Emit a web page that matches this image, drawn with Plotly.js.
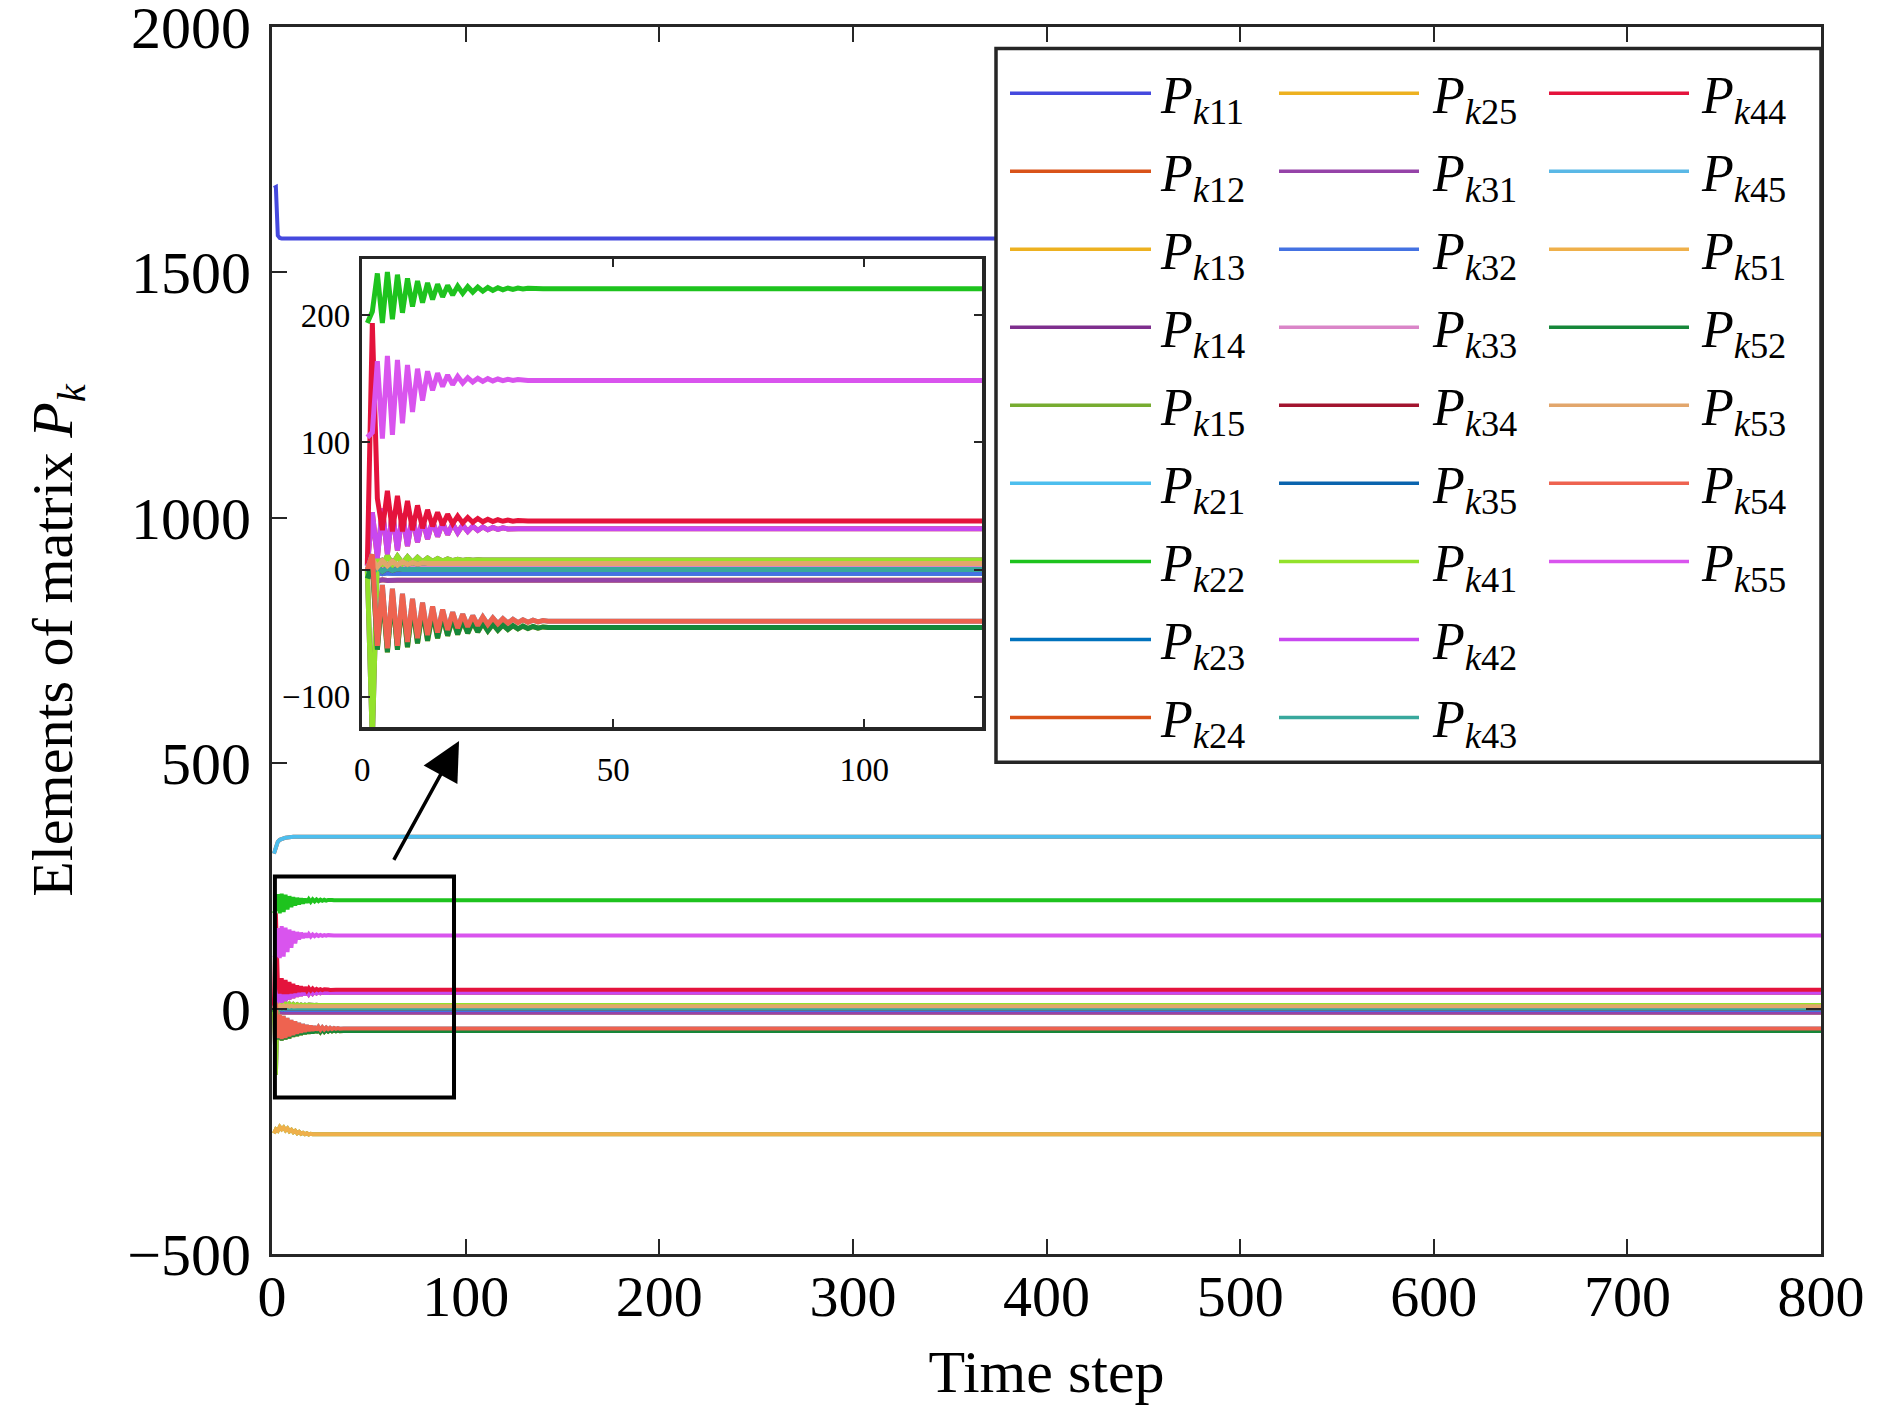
<!DOCTYPE html>
<html>
<head>
<meta charset="utf-8">
<script src="https://cdn.plot.ly/plotly-3.0.1.min.js"></script>
<style>html,body{margin:0;padding:0;background:#fff}#chart{width:1890px;height:1408px}</style>
</head>
<body>
<div id="chart"></div>
<script>
// ---------------- data ----------------
const lastStep = 800;
// transient values for time steps 1,2,3,... then the steady value held to step 800
const p11Start = [1672, 1674, 1575, 1570];
const p11End = 1569;
const p21Start = [316, 331, 340, 344, 346, 347.5, 348.3, 348.8, 349.2, 349.5];
const p21End = 350;
const p22Start = [194, 203, 233, 194, 234, 197, 232, 202, 229, 207, 227, 210, 225.5, 212.5, 224.5, 214.5, 223.5, 216, 223, 217.3, 222.5, 218.3, 222.2, 219, 221.9, 219.6, 221.7, 220, 221.5, 220.4, 221.4, 220.7, 221.3, 220.9, 221.2];
const p22End = 221;
const p31Start = [0, -6, -9, -8, -8.5, -8.2];
const p31End = -8.3;
const p32Start = [0, -4, -2, -3.2, -2.6];
const p32End = -2.8;
const p33Start = [0, 4, 1, 3, 1.5, 2.5];
const p33End = 2;
const p41Start = [0, -135, 9, 3, 11, 4, 10.5, 5, 10, 5.5, 9.5, 6, 9, 6.4, 8.6, 6.7, 8.3, 7, 8.1, 7.2, 7.9, 7.3, 7.7];
const p41End = 7.5;
const p42Start = [3, 45, 9, 48, 12, 46, 15, 44, 18.5, 42, 21.5, 40, 24, 38.5, 26, 37, 27.5, 36, 29, 35, 30, 34.2, 30.8, 33.6, 31.3, 33.1, 31.6, 32.8, 31.9, 32.5];
const p42End = 32.2;
const p43Start = [0, -3, 2, -1.5, 1, -0.8, 0.5];
const p43End = 0;
const p44Start = [4, 194, 56, 31, 62, 30, 58, 30, 54, 31, 50.5, 32.5, 47, 34, 45, 35, 43.5, 36, 42, 36.7, 41, 37.2, 40.2, 37.6, 39.6, 37.8, 39.2, 38, 38.9, 38.1, 38.6, 38.2];
const p44End = 38.3;
const p51Start = [-254, -246, -249, -241, -246, -242, -248, -244, -250, -247, -252, -249, -254, -251, -255, -253, -256, -254, -256.5, -255];
const p51End = -255.8;
const p52Start = [-7, 5, -63, -17, -65, -20, -63, -24, -61, -28, -58, -31, -56, -34, -54, -36.5, -52, -38.5, -51, -40, -50, -41.3, -49, -42.2, -48.3, -43, -47.7, -43.6, -47.1, -44.1, -46.7, -44.5, -46.4, -44.8, -46.1, -45.1];
const p52End = -45.5;
const p53Start = [0, 8, 2, 7, 3, 6.5, 3.5, 6, 4, 5.5, 4.3, 5.1];
const p53End = 4.7;
const p54Start = [0, 12, -60, -12, -62, -15, -60, -19, -57, -23, -54, -26, -51.5, -29, -49.5, -31.5, -47.5, -33.5, -46, -35, -45, -36.3, -44, -37.2, -43.2, -38, -42.6, -38.6, -42.1, -39.1, -41.7, -39.5, -41.4, -39.8, -41.1, -40.1];
const p54End = -40.6;
const p55Start = [104, 108, 164, 103, 168, 106, 165, 115, 161, 124, 158, 133, 156, 141, 154.5, 144, 153, 145.5, 152, 146.7, 151, 147.5, 150.5, 148, 150.2, 148.4, 149.9, 148.6, 149.7, 148.8, 149.5, 149];
const p55End = 148.8;

// the matrix is symmetric: upper-triangle elements equal the lower ones
const seriesNames = ['11','12','13','14','15','21','22','23','24','25','31','32','33','34','35','41','42','43','44','45','51','52','53','54','55'];
const seriesStart = [p11Start, p21Start, p31Start, p41Start, p51Start,
                     p21Start, p22Start, p32Start, p42Start, p52Start,
                     p31Start, p32Start, p33Start, p43Start, p53Start,
                     p41Start, p42Start, p43Start, p44Start, p54Start,
                     p51Start, p52Start, p53Start, p54Start, p55Start];
const seriesEnd = [p11End, p21End, p31End, p41End, p51End,
                   p21End, p22End, p32End, p42End, p52End,
                   p31End, p32End, p33End, p43End, p53End,
                   p41End, p42End, p43End, p44End, p54End,
                   p51End, p52End, p53End, p54End, p55End];
const seriesColors = ['#4549DE','#D95319','#EDB120','#7E2F8E','#77AC30',
                      '#4DBEEE','#1EC31E','#0072BD','#D95319','#EDB120',
                      '#9543A8','#4472E2','#DA85C8','#A2142F','#0A64AE',
                      '#93E22B','#C848F0','#38A89D','#E4133C','#5AB8E6',
                      '#EFB04A','#16873A','#E2A66C','#EE6350','#D954EE'];

// ---------------- build traces ----------------
function buildXY(start, end) {
  const x = [], y = [];
  for (let i = 0; i < start.length; i++) { x.push(i + 1); y.push(start[i]); }
  x.push(start.length + 1); y.push(end);
  x.push(lastStep); y.push(end);
  return {x, y};
}
const traces = [];
seriesNames.forEach((n, i) => {
  const d = buildXY(seriesStart[i], seriesEnd[i]);
  traces.push({x: d.x, y: d.y, type: 'scatter', mode: 'lines', xaxis: 'x', yaxis: 'y',
    line: {color: seriesColors[i], width: 4}, hoverinfo: 'skip', showlegend: false});
});
seriesNames.forEach((n, i) => {
  const d = buildXY(seriesStart[i], seriesEnd[i]);
  traces.push({x: d.x, y: d.y, type: 'scatter', mode: 'lines', xaxis: 'x2', yaxis: 'y2',
    line: {color: seriesColors[i], width: 5}, hoverinfo: 'skip', showlegend: false});
});

// ---------------- layout ----------------
const W = 1890, H = 1408;
const L = 272, R = 1821, TOP = 26.5, BOT = 1254;
const px = v => (v - L) / (R - L);
const py = v => (BOT - v) / (BOT - TOP);
const FONT = 'Liberation Serif, Times New Roman, serif';
const AX = '#262626';

const shapes = [];
const annotations = [];

// zoom rectangle on main axes
shapes.push({type: 'rect', xref: 'x', yref: 'y', x0: 1.5, x1: 94, y0: -181, y1: 269,
  line: {color: '#000', width: 4}, fillcolor: 'rgba(0,0,0,0)', layer: 'above'});
// arrow
annotations.push({xref: 'x', yref: 'y', axref: 'x', ayref: 'y', x: 96.6, y: 545, ax: 62.5, ay: 300,
  text: '', showarrow: true, arrowhead: 2, arrowsize: 2.2, arrowwidth: 3.5, arrowcolor: '#000', standoff: 0});

// custom legend (3 columns, column-major)
shapes.push({type: 'rect', xref: 'paper', yref: 'paper', x0: px(996), x1: px(1821), y0: py(762), y1: py(48),
  line: {color: AX, width: 3.5}, fillcolor: '#fff', layer: 'above'});
const colLine = [[1010, 1151], [1279, 1419], [1549, 1689]];
const colText = [1158, 1430, 1699];
const row0 = 92.8, rowStep = 78.05;
seriesNames.forEach((n, i) => {
  const c = Math.floor(i / 9), r = i % 9;
  const yy = row0 + r * rowStep;
  shapes.push({type: 'line', xref: 'paper', yref: 'paper', x0: px(colLine[c][0]), x1: px(colLine[c][1]),
    y0: py(yy), y1: py(yy), line: {color: seriesColors[i], width: 3.5}, layer: 'above'});
  annotations.push({xref: 'paper', yref: 'paper', x: px(colText[c]), y: py(yy + 6), xanchor: 'left', yanchor: 'middle',
    showarrow: false, text: '<i>P</i><sub><i>k</i>' + n + '</sub>', font: {family: FONT, size: 52, color: '#000'}});
});

const layout = {
  width: W, height: H,
  margin: {l: L, r: W - R, t: TOP, b: H - BOT, pad: 0},
  paper_bgcolor: '#fff', plot_bgcolor: '#fff',
  showlegend: false,
  font: {family: FONT, color: '#000'},
  xaxis: {
    domain: [0, 1], anchor: 'y', range: [0, 800], tickmode: 'linear', tick0: 0, dtick: 100,
    ticks: 'inside', ticklen: 15, tickwidth: 2, tickcolor: AX,
    showline: true, linewidth: 3, linecolor: AX, mirror: 'ticks',
    showgrid: false, zeroline: false, ticklabelstandoff: -11, ticklabeloverflow: 'allow',
    tickfont: {family: FONT, size: 58, color: '#000'},
    title: {text: 'Time step', font: {family: FONT, size: 60, color: '#000'}, standoff: 23}
  },
  yaxis: {
    domain: [0, 1], anchor: 'x', range: [-500, 2000], tickmode: 'linear', tick0: 0, dtick: 500,
    ticks: 'inside', ticklen: 15, tickwidth: 2, tickcolor: AX,
    showline: true, linewidth: 3, linecolor: AX, mirror: 'ticks',
    showgrid: false, zeroline: false, ticklabelstandoff: 6, ticklabeloverflow: 'allow',
    tickfont: {family: FONT, size: 60, color: '#000'},
    title: {text: 'Elements of matrix <i>P</i><sub><i>k</i></sub>', font: {family: FONT, size: 58, color: '#000'}, standoff: 36}
  },
  xaxis2: {
    domain: [px(362.3), px(982.3)], anchor: 'y2', range: [0, 123.5], tickmode: 'linear', tick0: 0, dtick: 50,
    ticks: 'inside', ticklen: 8, tickwidth: 2, tickcolor: AX,
    showline: true, linewidth: 3.5, linecolor: AX, mirror: 'ticks',
    showgrid: false, zeroline: false, ticklabelstandoff: 11,
    tickfont: {family: FONT, size: 33, color: '#000'}
  },
  yaxis2: {
    domain: [py(727), py(259)], anchor: 'x2', range: [-124, 244], tickmode: 'linear', tick0: 0, dtick: 100,
    ticks: 'inside', ticklen: 8, tickwidth: 2, tickcolor: AX,
    showline: true, linewidth: 3.5, linecolor: AX, mirror: 'ticks',
    showgrid: false, zeroline: false, ticklabelstandoff: 2,
    tickfont: {family: FONT, size: 33, color: '#000'}
  },
  shapes: shapes,
  annotations: annotations
};

Plotly.newPlot('chart', traces, layout, {staticPlot: true, displayModeBar: false});
</script>
</body>
</html>
